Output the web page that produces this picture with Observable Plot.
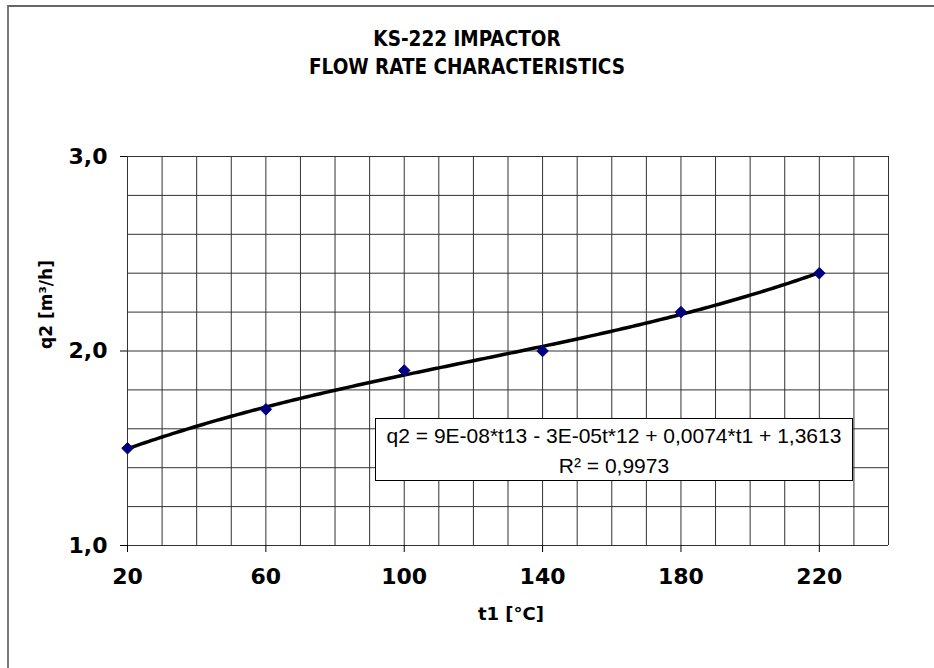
<!DOCTYPE html>
<html>
<head>
<meta charset="utf-8">
<script src="https://cdn.jsdelivr.net/npm/d3@7"></script>
<script src="https://cdn.jsdelivr.net/npm/@observablehq/plot@0.6"></script>
<style>
  body { margin: 0; background: #fff; }
  #wrap { position: relative; width: 934px; height: 668px; overflow: hidden; background: #fff; }
  #border { position: absolute; left: 7px; top: 5px; width: 960px; height: 700px;
            border-left: 2px solid #7a7a7a; border-top: 2px solid #666; pointer-events: none; }
  #title { width: 904px; padding-left: 30px; height: 100px; box-sizing: border-box; padding-top: 25px;
           text-align: center; font-family: "DejaVu Sans Condensed", "DejaVu Sans", sans-serif;
           font-stretch: condensed; font-weight: bold; font-size: 20.5px; line-height: 28.3px; color: #000; }
  #chart svg { display: block; }
  #eq { position: absolute; left: 375px; top: 418px; width: 478px; height: 63px; box-sizing: border-box;
        border: 1px solid #000; background: #fff; text-align: center;
        font-family: "Liberation Sans", Arial, sans-serif; font-size: 21px; line-height: 30px;
        padding-top: 2px; color: #000; }
</style>
</head>
<body>
<div id="wrap">
  <div id="title"><div>KS-222 IMPACTOR</div><div>FLOW RATE CHARACTERISTICS</div></div>
  <div id="chart"></div>
  <div id="eq"><div>q2 = 9E-08*t13 - 3E-05t*12 + 0,0074*t1 + 1,3613</div><div>R² = 0,9973</div></div>
  <div id="border"></div>
</div>
<script>
// Data
const t1 = [20, 60, 100, 140, 180, 220];
const q2 = [1.5, 1.7, 1.9, 2.0, 2.2, 2.4];
const xTicks = [20, 60, 100, 140, 180, 220];
const yTicks = [1, 2, 3];
const xDomain = [20, 240];
const yDomain = [1, 3];

const points = t1.map((t, i) => ({t, q: q2[i]}));

// 3rd-order polynomial least-squares trendline computed from the data
function polyfit(xs, ys, deg) {
  const n = deg + 1;
  const A = Array.from({length: n}, (_, i) => Array.from({length: n}, (_, j) => d3.sum(xs, x => Math.pow(x, i + j))));
  const b = Array.from({length: n}, (_, i) => d3.sum(xs, (x, k) => ys[k] * Math.pow(x, i)));
  for (let c = 0; c < n; c++) {
    let p = c;
    for (let r = c + 1; r < n; r++) if (Math.abs(A[r][c]) > Math.abs(A[p][c])) p = r;
    [A[c], A[p]] = [A[p], A[c]]; [b[c], b[p]] = [b[p], b[c]];
    for (let r = c + 1; r < n; r++) {
      const f = A[r][c] / A[c][c];
      for (let k = c; k < n; k++) A[r][k] -= f * A[c][k];
      b[r] -= f * b[c];
    }
  }
  const coef = new Array(n).fill(0);
  for (let r = n - 1; r >= 0; r--) {
    let s = b[r];
    for (let k = r + 1; k < n; k++) s -= A[r][k] * coef[k];
    coef[r] = s / A[r][r];
  }
  return x => coef.reduce((acc, c, i) => acc + c * Math.pow(x, i), 0);
}
const fit = polyfit(t1, q2, 3);
const trend = d3.range(d3.min(t1), d3.max(t1) + 0.001, 1).map(t => ({t, q: fit(t)}));

const gridX = d3.range(xDomain[0], xDomain[1] + 0.001, 10);
const gridY = d3.range(0, 11).map(i => yDomain[0] + i * 0.2);
const fmtY = d => d.toFixed(1).replace(".", ",");

const chart = Plot.plot({
  width: 934,
  height: 568,
  marginLeft: 127,
  marginRight: 46,
  marginTop: 56,
  marginBottom: 123,
  x: {domain: xDomain},
  y: {domain: yDomain},
  style: {fontFamily: "DejaVu Sans, sans-serif", fontWeight: "bold", color: "#000", background: "#fff", overflow: "visible"},
  marks: [
    Plot.ruleX(gridX, {stroke: "#333", strokeWidth: 1}),
    Plot.ruleY(gridY, {stroke: "#333", strokeWidth: 1}),
    Plot.axisX({ticks: xTicks, tickSize: 7, tickPadding: 16, fontSize: 22, tickFormat: d => String(d), label: null, stroke: "#000"}),
    Plot.axisY({ticks: yTicks, tickSize: 7, tickPadding: 13, fontSize: 22, tickFormat: fmtY, label: null, stroke: "#000"}),
    Plot.text(["t1 [°C]"], {frameAnchor: "bottom", dy: 74, dx: 3, fontSize: 18, fontWeight: "bold", fill: "#000"}),
    Plot.text(["q2 [m³/h]"], {frameAnchor: "left", rotate: -90, dx: -81, dy: -2, fontSize: 17, fontWeight: "bold", fill: "#000"}),
    Plot.line(trend, {x: "t", y: "q", stroke: "#000", strokeWidth: 3.5, curve: "linear"}),
    Plot.dot(points, {x: "t", y: "q", symbol: "diamond2", r: 5.2, fill: "#000080", stroke: "#000080", strokeWidth: 1})
  ]
});
document.getElementById("chart").appendChild(chart);
</script>
</body>
</html>
